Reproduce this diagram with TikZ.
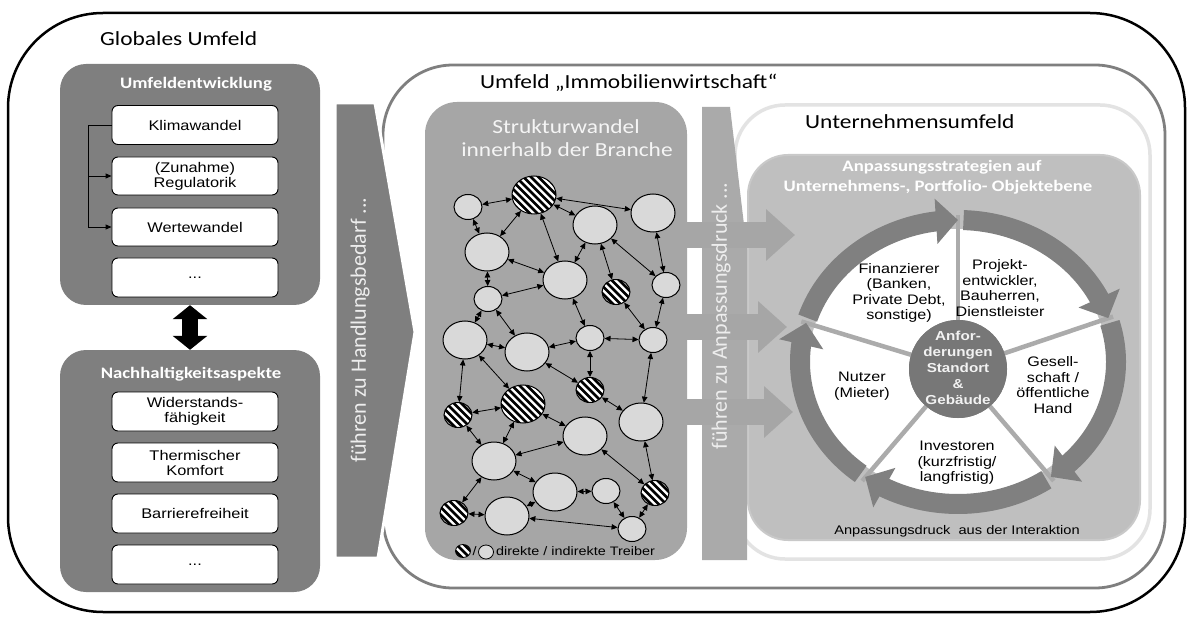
\documentclass[tikz,border=0pt]{standalone}
\usepackage{fontspec}
\setmainfont{Liberation Sans}[FakeStretch=1.17]
\newfontfamily\calf{Carlito}[FakeStretch=1.17]
\newfontfamily\calv{Carlito}
\usetikzlibrary{shapes.geometric,arrows.meta,bending,calc}
\definecolor{dk}{HTML}{7F7F7F}
\definecolor{md}{HTML}{A6A6A6}
\definecolor{colg}{HTML}{AAAAAA}
\definecolor{lt}{HTML}{BFBFBF}
\definecolor{fr}{HTML}{E3E3E3}
\definecolor{netf}{HTML}{D9D9D9}
\definecolor{ctr}{HTML}{777777}
\definecolor{divc}{HTML}{ABABAB}
\definecolor{ringc}{HTML}{808080}
\begin{document}
\begin{tikzpicture}[x=1pt,y=-1pt,
  wbox/.style={draw=black, line width=0.9pt, fill=white, rounded corners=6pt,
    minimum width=166pt, minimum height=39pt, align=center, inner sep=1pt,
    font=\fontsize{14}{15}\selectfont},
  gpanel/.style={fill=dk, rounded corners=26pt, minimum width=260pt, inner sep=0pt},
  ptitle/.style={text=white, font=\calf\bfseries\fontsize{16}{19}\selectfont, inner sep=0pt},
  htitle/.style={text=black, font=\calf\fontsize{20}{24}\selectfont, inner sep=0pt},
  vtext/.style={rotate=90, text=white!93!black, font=\calv\fontsize{22}{26}\selectfont, inner sep=0pt},
  big/.style={ellipse, draw, line width=1pt, minimum width=44pt, minimum height=38pt, inner sep=0pt},
  small/.style={ellipse, draw, line width=1pt, minimum width=28pt, minimum height=25pt, inner sep=0pt},
  ind/.style={fill=netf},
  drv/.style={fill=white, path picture={
     \foreach \k in {-60,-52.5,...,60} {\draw[line width=2.7pt]
       ([xshift=\k pt]path picture bounding box.center) ++(-32pt,32pt) -- ++(64pt,-64pt);}}},
  biarr/.style={{Triangle[width=5.5pt,length=6pt]}-{Triangle[width=5.5pt,length=6pt]}, line width=0.8pt},
  parr/.style={draw=md, line width=26pt, -{Triangle[width=50pt,length=29pt]}},
  ringarr/.style={draw=ringc, line width=20pt, -{Triangle[width=44pt,length=22pt]}},
  lbl/.style={align=center, inner sep=0pt, font=\fontsize{13.8}{15.5}\selectfont},
]
\useasboundingbox (0,0) rectangle (1190,617);

% outer frame
\node[draw=black, line width=2.5pt, rounded corners=95pt, minimum width=1177pt, minimum height=599pt] (outer) at (596.5,312.5) {};
\node[htitle, anchor=base west] (glob) at (100,46) {Globales Umfeld};

% Immobilienwirtschaft frame
\node[draw=dk, line width=2.8pt, fill=white, rounded corners=70pt, minimum width=782pt, minimum height=523pt] (imm) at (774,326.5) {};
\node[htitle, anchor=base west] (immt) at (480,89) {Umfeld „Immobilienwirtschaft“};

% Unternehmensumfeld frame
\node[draw=fr, line width=3.5pt, fill=white, rounded corners=50pt, minimum width=415pt, minimum height=454pt] (unt) at (942.5,332) {};
\node[htitle, anchor=base west] (untt) at (805,129) {Unternehmensumfeld};

% inner panel
\node[fill=lt, draw=lt!85!white, line width=2pt, rounded corners=40pt, minimum width=392pt, minimum height=385pt] (ip) at (944,347.5) {};
\node[ptitle, anchor=base] (ipt1) at (942,172) {Anpassungsstrategien auf};
\node[ptitle, anchor=base] (ipt2) at (938,192) {Unternehmens-, Portfolio- Objektebene};

% Strukturwandel panel
\node[fill=md, rounded corners=32pt, minimum width=262pt, minimum height=458pt] (sw) at (556,331) {};
\node[htitle, text=white!96!black, anchor=base] (swt1) at (566,134) {Strukturwandel};
\node[htitle, text=white!96!black, anchor=base] (swt2) at (567,157) {innerhalb der Branche};

% Anpassungsdruck column
\fill[colg] (702,107) -- (730,107) -- (747,250) -- (747,560) -- (702,560) -- cycle;
\coordinate (t1) at (795,235);
\coordinate (t2) at (787,327);
\coordinate (t3) at (793,412);
\draw[parr] (sw.east |- t1) -- (t1);
\draw[parr] (sw.east |- t2) -- (t2);
\draw[parr] (sw.east |- t3) -- (t3);
\node[vtext] (adt) at (721,316) {führen zu Anpassungsdruck ...};

% ring
\coordinate (rc) at (958,362);
\fill[white] (rc) ellipse[x radius=149, y radius=133];
\node[circle, fill=ctr, minimum size=98pt, inner sep=0pt] (cc) at (958,369) {};
\foreach \a/\n in {-164/d1,-90/d2,-18/d3,54/d4,126/d5} {
  \coordinate (\n) at ([shift={(\a:163 and 147)}]rc);
  \draw[divc, line width=4.5pt] (cc.center) -- (\n);
}
\node[circle, fill=ctr, minimum size=98pt, inner sep=0pt] (cc2) at (958,369) {};
\draw[ringarr] ([shift={(-162:158 and 142)}]rc) arc[start angle=-162, end angle=-90, x radius=158, y radius=142];
\draw[ringarr] ([shift={(-88:158 and 142)}]rc) arc[start angle=-88, end angle=-18, x radius=158, y radius=142];
\draw[ringarr] ([shift={(-16:158 and 142)}]rc) arc[start angle=-16, end angle=54, x radius=158, y radius=142];
\draw[ringarr] ([shift={(56:158 and 142)}]rc) arc[start angle=56, end angle=126, x radius=158, y radius=142];
\draw[ringarr] ([shift={(128:158 and 142)}]rc) arc[start angle=128, end angle=196, x radius=158, y radius=142];
\node[align=center, text=white!95!black, inner sep=0pt, font=\bfseries\fontsize{13}{16}\selectfont] (cct) at (958,368) {Anfor-\\derungen\\Standort\\\&\\Gebäude};

\node[lbl] (fin) at (899,293) {Finanzierer\\(Banken,\\Private Debt,\\sonstige)};
\node[lbl] (pro) at (1000,288) {Projekt-\\entwickler,\\Bauherren,\\Dienstleister};
\node[lbl] (ges) at (1053,385) {Gesell-\\schaft /\\öffentliche\\Hand};
\node[lbl] (nut) at (862,386) {Nutzer\\(Mieter)};
\node[lbl] (inv) at (957,463) {Investoren\\(kurzfristig/\\langfristig)};
\node[lbl, font=\fontsize{12.5}{15}\selectfont] (apd) at (957,531) {Anpassungsdruck\ \ aus der Interaktion};

% network
\node[small,ind] (n1) at (468,207) {};
\node[big,drv]   (n2) at (534,195) {};
\node[big,ind]   (n3) at (653,213) {};
\node[big,ind]   (n4) at (595,225) {};
\node[big,ind]   (n5) at (487,252) {};
\node[big,ind]   (n6) at (565,280) {};
\node[small,drv] (n7) at (616,292) {};
\node[small,ind] (n8) at (666,285) {};
\node[small,ind] (n9) at (488,299) {};
\node[big,ind]   (na) at (465,340) {};
\node[big,ind]   (nb) at (527,352) {};
\node[small,ind] (nc) at (590,338) {};
\node[small,ind] (nd) at (653,340) {};
\node[small,drv] (ne) at (590,390) {};
\node[small,drv] (nf) at (458,415) {};
\node[big,drv]   (ng) at (523,404) {};
\node[big,ind]   (nh) at (641,422) {};
\node[big,ind]   (ni) at (585,436) {};
\node[big,ind]   (nj) at (494,461) {};
\node[big,ind]   (nk) at (555,492) {};
\node[small,ind] (nl) at (606,491) {};
\node[small,drv] (nm) at (655,493) {};
\node[small,drv] (nn) at (454,513) {};
\node[big,ind]   (no) at (507,516) {};
\node[small,ind] (np) at (632,529) {};
\foreach \u/\v in {n1/n2,n1/n5,n2/n5,n2/n3,n2/n4,n2/n6,n5/n6,n5/n9,n9/n6,n4/n6,n4/n7,n4/n8,n3/n8,n8/nd,n7/nd,n6/nc,n9/na,n9/nb,nc/nd,na/nb,nb/nc,nc/ne,nb/ne,nd/nh,ne/nh,na/nf,na/ng,nf/ng,ng/ni,nf/nj,ng/nj,nj/ni,ni/nm,nh/nm,nj/nk,nj/nn,nn/no,no/nk,nk/nl,nl/np,no/np,nm/np}
  \draw[biarr] (\u) -- (\v);

% legend
\node[small,drv, minimum width=15pt, minimum height=13pt, line width=0.8pt] (lg1) at (463,551) {};
\node[inner sep=0pt, font=\fontsize{12.3}{14}\selectfont] (lgs) at (474.5,551) {/};
\node[small,ind, minimum width=15pt, minimum height=14pt, line width=0.8pt] (lg2) at (486,552) {};
\node[anchor=west, inner sep=0pt, font=\fontsize{12.3}{14}\selectfont] (lgt) at (496,551) {direkte / indirekte Treiber};

% Handlungsbedarf arrow
\filldraw[fill=dk, draw=white, line width=3pt] (335,103) -- (375,103) -- (415,332) -- (378,558) -- (335,558) -- cycle;
\node[vtext] (hbt) at (360,330) {führen zu Handlungsbedarf ...};

% left panels
\node[gpanel, minimum height=241pt] (p1) at (190,184.5) {};
\node[ptitle, anchor=base] (p1t) at (196,89) {Umfeldentwicklung};
\node[wbox] (k1) at (195,125) {Klimawandel};
\node[wbox, minimum height=38pt] (k2) at (195,176) {(Zunahme)\\Regulatorik};
\node[wbox, minimum height=38pt] (k3) at (195,227) {Wertewandel};
\node[wbox] (k4) at (195,277.5) {...};
\draw[line width=0.9pt, -{Triangle[width=5pt,length=6pt]}] (k1.west) -- ++(-23,0) coordinate (bt) |- (k3.west);
\draw[line width=0.9pt, -{Triangle[width=5pt,length=6pt]}] (bt |- k2.west) -- (k2.west);

\node[gpanel, minimum height=242pt] (p2) at (190,471) {};
\node[ptitle, anchor=base] (p2t) at (191,378) {Nachhaltigkeitsaspekte};
\node[wbox] (s1) at (195,411.5) {Widerstands-\\fähigkeit};
\node[wbox] (s2) at (195,462.5) {Thermischer\\Komfort};
\node[wbox] (s3) at (195,513.5) {Barrierefreiheit};
\node[wbox] (s4) at (195,564.5) {...};

\draw[line width=16pt, {Triangle[width=34pt,length=14pt]}-{Triangle[width=34pt,length=14pt]}] (p1.south) -- (p2.north);
\end{tikzpicture}
\end{document}
